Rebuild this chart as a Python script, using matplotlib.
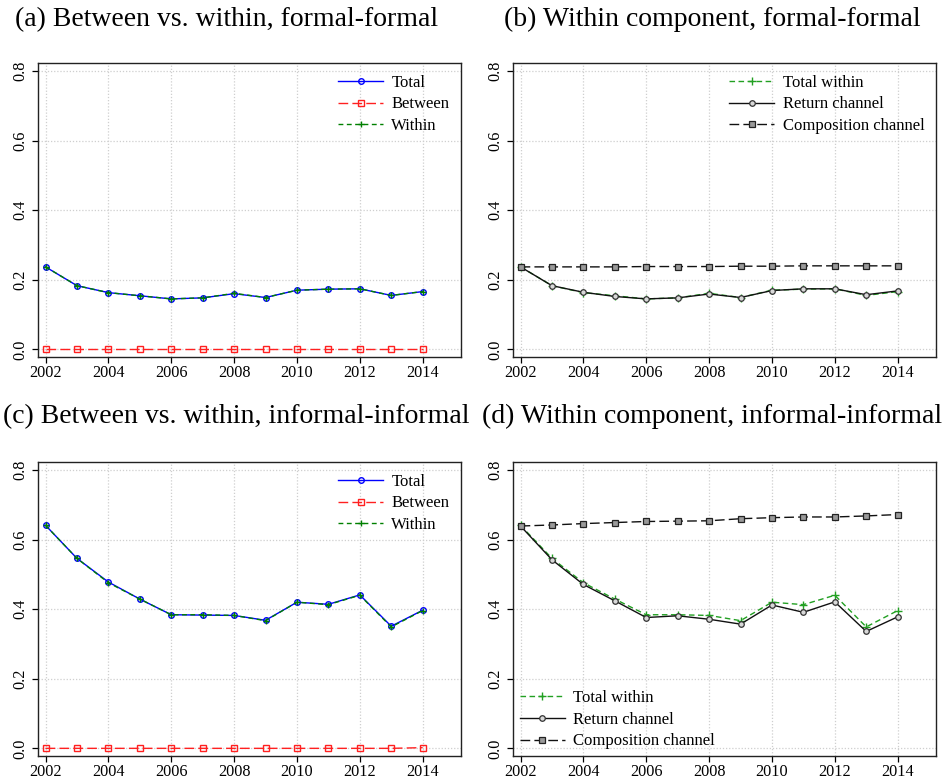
import matplotlib
matplotlib.use("Agg")
import matplotlib.pyplot as plt

years = list(range(2002, 2015))

# (a) formal-formal: between vs. within
ff_total = [0.237, 0.183, 0.163, 0.154, 0.145, 0.148, 0.160, 0.149, 0.170, 0.173, 0.174, 0.155, 0.166]
ff_between = [0.000, 0.000, 0.000, 0.000, 0.000, 0.000, 0.000, 0.000, 0.000, 0.000, 0.000, 0.000, 0.000]
ff_within = [0.237, 0.183, 0.163, 0.154, 0.145, 0.148, 0.161, 0.149, 0.170, 0.173, 0.174, 0.155, 0.166]

# (b) formal-formal: within component channels
ff_return = [0.237, 0.183, 0.164, 0.152, 0.145, 0.148, 0.159, 0.149, 0.169, 0.174, 0.174, 0.157, 0.168]
ff_composition = [0.237, 0.237, 0.237, 0.237, 0.238, 0.238, 0.238, 0.239, 0.239, 0.240, 0.240, 0.240, 0.240]

# (c) informal-informal: between vs. within
ii_total = [0.641, 0.546, 0.478, 0.429, 0.384, 0.383, 0.382, 0.368, 0.420, 0.414, 0.441, 0.351, 0.397]
ii_between = [0.000, 0.000, 0.000, 0.000, 0.000, 0.000, 0.000, 0.000, 0.000, 0.000, 0.000, 0.000, 0.002]
ii_within = [0.641, 0.546, 0.476, 0.429, 0.384, 0.384, 0.382, 0.367, 0.420, 0.413, 0.440, 0.349, 0.396]

# (d) informal-informal: within component channels
ii_return = [0.639, 0.542, 0.471, 0.424, 0.376, 0.381, 0.371, 0.357, 0.412, 0.391, 0.421, 0.336, 0.378]
ii_composition = [0.639, 0.642, 0.646, 0.649, 0.652, 0.653, 0.654, 0.660, 0.663, 0.665, 0.665, 0.668, 0.672]

titles = [
    "(a) Between vs. within, formal-formal",
    "(b) Within component, formal-formal",
    "(c) Between vs. within, informal-informal",
    "(d) Within component, informal-informal",
]
xticks = [2002, 2004, 2006, 2008, 2010, 2012, 2014]
yticks = [0.0, 0.2, 0.4, 0.6, 0.8]

SERIF = ["Liberation Serif", "DejaVu Serif"]
plt.rcParams["font.family"] = SERIF

W, H = 947, 779
fig = plt.figure(figsize=(W / 100, H / 100), dpi=100)


def px_axes(l, t, r, b):
    return fig.add_axes([l / W, 1 - b / H, (r - l) / W, (b - t) / H])


ax_a = px_axes(38, 63, 461, 357)
ax_b = px_axes(513, 63, 936, 357)
ax_c = px_axes(38, 462, 461, 756)
ax_d = px_axes(513, 462, 936, 756)

BLUE = "#0000FF"
RED = "#FF2020"
GREEN = "#008000"
GREEN2 = "#22A022"
DARK = "#111111"

common = dict(linewidth=1.0)


def style(ax):
    ax.set_xlim(2001.76, 2015.22)
    ax.set_ylim(-0.022, 0.823)
    ax.set_xticks(xticks)
    ax.set_xticklabels([str(x) for x in xticks])
    ax.set_yticks(yticks)
    ax.set_yticklabels([f"{v:.1f}" for v in yticks], rotation=90, va="center")
    ax.tick_params(axis="both", direction="out", length=4, width=0.9,
                   labelsize=11.7, colors="black")
    ax.tick_params(axis="x", pad=1.5)
    ax.tick_params(axis="y", pad=3.0)
    ax.grid(True, color="#cfcfcf", linestyle=(0, (1, 1.5)), linewidth=0.9)
    ax.set_axisbelow(True)
    for s in ax.spines.values():
        s.set_linewidth(1.0)
        s.set_color("#222222")


def between_within(ax, total, between, within):
    ax.plot(years, total, color=BLUE, marker="o", markersize=4,
            markerfacecolor="none", markeredgewidth=1.0, label="Total", **common)
    ax.plot(years, between, color=RED, marker="s", markersize=4,
            markerfacecolor="none", markeredgewidth=1.0, dashes=(7, 3),
            label="Between", **common)
    ax.plot(years, within, color=GREEN, marker="+", markersize=5,
            markeredgewidth=1.0, dashes=(3.5, 2.5), label="Within", **common)


def channels(ax, within, ret, comp):
    ax.plot(years, within, color=GREEN2, marker="+", markersize=6,
            markeredgewidth=1.0, dashes=(4, 2.5), label="Total within", **common)
    ax.plot(years, ret, color=DARK, marker="o", markersize=4,
            markerfacecolor="#d8d8d8", markeredgecolor="#333333",
            markeredgewidth=0.9, label="Return channel", **common)
    ax.plot(years, comp, color=DARK, marker="s", markersize=4,
            markerfacecolor="#9a9a9a", markeredgecolor="#222222",
            markeredgewidth=0.9, dashes=(7, 3), label="Composition channel", **common)


between_within(ax_a, ff_total, ff_between, ff_within)
channels(ax_b, ff_within, ff_return, ff_composition)
between_within(ax_c, ii_total, ii_between, ii_within)
channels(ax_d, ii_within, ii_return, ii_composition)

leg_kw = dict(frameon=False, fontsize=12, handlelength=2.7, handletextpad=0.5,
              labelspacing=0.35)
ax_a.legend(loc="upper right", borderaxespad=0.3, **leg_kw)
ax_b.legend(loc="upper right", borderaxespad=0.3, **leg_kw)
ax_c.legend(loc="upper right", borderaxespad=0.3, **leg_kw)
ax_d.legend(loc="lower left", borderaxespad=0.0, **leg_kw)

for ax in (ax_a, ax_b, ax_c, ax_d):
    style(ax)

title_kw = dict(ha="center", va="baseline", fontsize=20, family=SERIF)
fig.text(227 / W, 1 - 26 / H, titles[0], **title_kw)
fig.text(712 / W, 1 - 26 / H, titles[1], **title_kw)
fig.text(236 / W, 1 - 423 / H, titles[2], **title_kw)
fig.text(712 / W, 1 - 423 / H, titles[3], **title_kw)

fig.savefig("out.png", dpi=100)
